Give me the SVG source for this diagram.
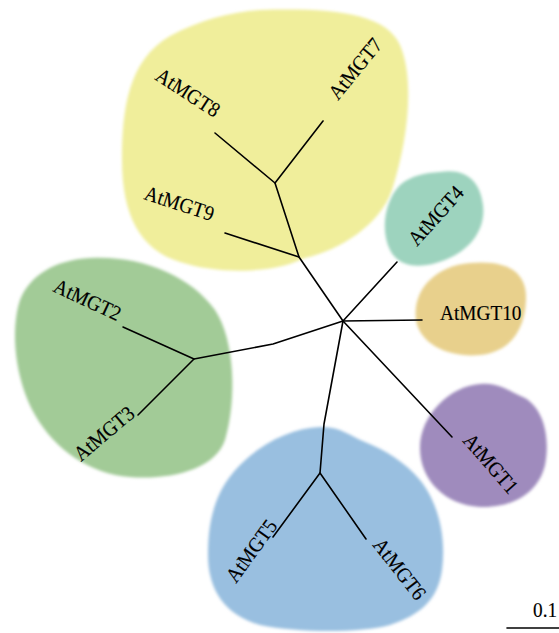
<svg xmlns="http://www.w3.org/2000/svg" width="559" height="633" viewBox="0 0 559 633">
<defs>
<filter id="soft" x="-10%" y="-10%" width="120%" height="120%"><feGaussianBlur stdDeviation="1.8"/></filter>
<style>
.blob{filter:url(#soft)}
.lbl{font-family:"Liberation Serif","Times New Roman",serif;font-size:21px;fill:#000;stroke:#000;stroke-width:0.15}
.br{fill:none;stroke:#000;stroke-width:1.6;stroke-linecap:round;stroke-linejoin:round}
</style>
</defs>
<rect width="559" height="633" fill="#fff"/>
<g id="blobs">
<path id="blob-yellow" class="blob" fill="#f0ee9b" d="M 260 10 C 330 8, 385 12, 400 45 C 415 80, 408 140, 392 190 C 380 225, 340 250, 305 258 L 295 262 C 270 272, 220 275, 180 262 C 140 250, 122 215, 122 160 C 122 110, 128 60, 170 36 C 200 20, 230 12, 260 10 Z"/>
<path id="blob-teal" class="blob" fill="#9dd3be" d="M 440 172 C 465 168, 480 180, 483 205 C 486 230, 470 250, 445 260 C 425 268, 400 270, 390 250 C 380 230, 385 200, 400 185 C 412 175, 425 173, 440 172 Z"/>
<path id="blob-orange" class="blob" fill="#e8d08c" d="M 470 263 C 505 260, 527 270, 526 300 C 525 330, 510 352, 480 355 C 450 358, 420 345, 416 320 C 412 290, 435 266, 470 263 Z"/>
<path id="blob-green" class="blob" fill="#a2cb97" d="M 90 258 C 140 255, 190 275, 215 310 C 235 340, 237 400, 225 440 C 215 470, 170 480, 130 477 C 90 474, 55 450, 35 415 C 15 380, 10 330, 20 300 C 30 275, 55 260, 90 258 Z"/>
<path id="blob-blue" class="blob" fill="#99bfe0" d="M 320 427 C 340 426, 350 436, 365 442 C 385 450, 405 462, 420 480 C 440 505, 446 540, 442 570 C 438 600, 420 615, 390 625 C 360 633, 300 633, 260 625 C 225 615, 208 590, 208 555 C 208 520, 215 490, 240 465 C 265 440, 295 428, 320 427 Z"/>
<path id="blob-purple" class="blob" fill="#9f8bbd" d="M 480 384 C 500 382, 510 392, 525 398 C 545 410, 550 440, 545 465 C 538 495, 510 508, 480 507 C 445 505, 420 480, 420 448 C 420 415, 450 386, 480 384 Z"/>
</g>
<g id="connectors">
<path class="br" d="M 343 321 L 299 257 L 275 183 L 323 121"/>
<path class="br" d="M 275 183 L 215 133"/>
<path class="br" d="M 299 257 L 225 233"/>
<path class="br" d="M 343 321 L 397 262"/>
<path class="br" d="M 343 321 L 422 320"/>
<path class="br" d="M 343 321 L 452 437"/>
<path class="br" d="M 343 321 L 324 424 L 320 473 L 273 537"/>
<path class="br" d="M 320 473 L 366 539"/>
<path class="br" d="M 343 321 L 273 344 L 194 359 L 123 327"/>
<path class="br" d="M 194 359 L 138 415"/>
</g>
<g id="node-AtMGT7"><text class="lbl" transform="translate(338,101) rotate(-51) scale(0.92,1)">AtMGT7</text></g>
<g id="node-AtMGT8"><text class="lbl" transform="translate(154,79) rotate(33) scale(0.92,1)">AtMGT8</text></g>
<g id="node-AtMGT9"><text class="lbl" transform="translate(143,199) rotate(18) scale(0.92,1)">AtMGT9</text></g>
<g id="node-AtMGT4"><text class="lbl" transform="translate(417,247) rotate(-48) scale(0.92,1)">AtMGT4</text></g>
<g id="node-AtMGT10"><text class="lbl" transform="translate(440,320) scale(0.92,1)">AtMGT10</text></g>
<g id="node-AtMGT1"><text class="lbl" transform="translate(462,441) rotate(49) scale(0.92,1)">AtMGT1</text></g>
<g id="node-AtMGT2"><text class="lbl" transform="translate(52,291) rotate(25) scale(0.92,1)">AtMGT2</text></g>
<g id="node-AtMGT3"><text class="lbl" transform="translate(81,462) rotate(-40) scale(0.92,1)">AtMGT3</text></g>
<g id="node-AtMGT5"><text class="lbl" transform="translate(236,584) rotate(-54) scale(0.92,1)">AtMGT5</text></g>
<g id="node-AtMGT6"><text class="lbl" transform="translate(372,545) rotate(52) scale(0.92,1)">AtMGT6</text></g>
<g id="scale">
<text class="lbl" transform="translate(533,617) scale(0.92,1)">0.1</text>
<path class="br" d="M 507 628 L 559 628" stroke-linecap="butt"/>
</g>
</svg>
